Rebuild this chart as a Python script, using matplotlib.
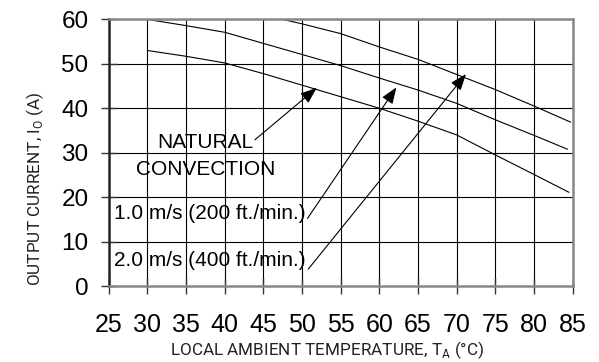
import matplotlib
matplotlib.use("Agg")
from matplotlib import pyplot as plt

# derating curves (temperature in C, current in A)
natural_t = [30, 35, 40, 45, 50, 55, 60, 65, 70, 75, 80, 84.5]
natural_i = [53, 51.7, 50.2, 47.8, 45.2, 42.6, 40, 37.1, 34, 29.5, 25.1, 21.1]

ms1_t = [30, 35, 40, 45, 50, 55, 60, 65, 70, 75, 80, 84.3]
ms1_i = [60, 58.6, 57.1, 54.6, 52.1, 49.6, 46.8, 44.1, 41.1, 37.4, 33.9, 30.8]

ms2_t = [47.5, 50, 55, 60, 65, 70, 75, 80, 84.7]
ms2_i = [60, 59, 56.8, 53.8, 51, 47.6, 44.2, 40.5, 36.9]

xticks = list(range(25, 90, 5))
yticks = list(range(0, 70, 10))

# callouts: (text lines, arrow tail, arrow tip)
label_nat = ["NATURAL", "CONVECTION"]
label_ms1 = "1.0 m/s (200 ft./min.)"
label_ms2 = "2.0 m/s (400 ft./min.)"
arrow_nat = ((43.9, 32.9), (51.9, 44.6))
arrow_ms1 = ((50.7, 15.2), (62.2, 44.7))
arrow_ms2 = ((50.8, 3.8), (71.2, 47.7))

fig = plt.figure(figsize=(5.99, 3.62), dpi=100)
ax = fig.add_axes([0.1815, 0.2099, 0.7746, 0.7365])

ax.set_xlim(25, 85)
ax.set_ylim(0, 60)
ax.set_xticks(xticks)
ax.set_yticks(yticks)
ax.grid(True, color='k', lw=0.8)
ax.set_axisbelow(True)

for spine in ['top', 'right', 'bottom']:
    ax.spines[spine].set_color('#888888')
    ax.spines[spine].set_linewidth(1.8)
ax.spines['left'].set_color('#222222')
ax.spines['left'].set_linewidth(1.8)

ax.tick_params(axis='both', direction='inout', length=11, width=1.0, color='#333333')
ax.tick_params(axis='x', pad=13.8, labelsize=18)
ax.tick_params(axis='y', pad=9.0, labelsize=17.5)
for lab in ax.get_xticklabels() + ax.get_yticklabels():
    lab.set_fontfamily('Liberation Sans')

ax.plot(natural_t, natural_i, color='k', lw=0.8, clip_on=False)
ax.plot(ms1_t, ms1_i, color='k', lw=0.8, clip_on=False)
ax.plot(ms2_t, ms2_i, color='k', lw=0.8, clip_on=False)

for tail, tip in [arrow_nat, arrow_ms1, arrow_ms2]:
    ax.annotate('', xy=tip, xytext=tail,
                arrowprops=dict(arrowstyle='-|>,head_length=1.0,head_width=0.38',
                                mutation_scale=10, lw=0.8, color='k',
                                shrinkA=0, shrinkB=0))

txt = dict(fontsize=15, fontfamily='Liberation Sans', color='k')
ax.text(37.52, 31.0, label_nat[0], ha='center', va='baseline', **txt)
ax.text(37.52, 25.0, label_nat[1], ha='center', va='baseline', **txt)
ax.text(25.7, 15.1, label_ms1, ha='left', va='baseline', **txt)
ax.text(25.7, 4.6, label_ms2, ha='left', va='baseline', **txt)

lab = dict(fontsize=12.3, fontfamily='Roboto', fontweight='normal', color='#222222')
fig.text(0.5454, 0.02, r'LOCAL AMBIENT TEMPERATURE, T$_\mathregular{A}$ (°C)',
         ha='center', va='baseline', **lab)
fig.text(0.0593, 0.479, r'OUTPUT CURRENT, I$_\mathregular{O}$ (A)',
         ha='center', va='center', rotation=90, **lab)

plt.savefig('out.png', dpi=100)
